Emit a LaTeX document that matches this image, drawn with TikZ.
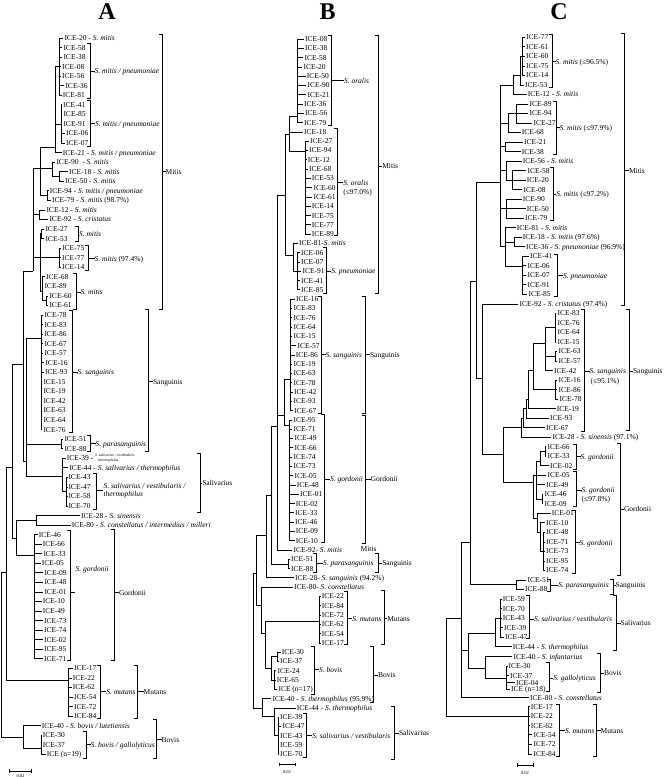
\documentclass[tikz,border=0pt]{standalone}
\usepackage{fontspec}
\setmainfont{Liberation Serif}
\usetikzlibrary{positioning}

\tikzset{
  tr/.style={line width=0.7pt},
  brk/.style={line width=0.9pt},
  lf/.style={anchor=west, inner xsep=1.2pt, inner ysep=0pt, xshift=-1.2pt,
    text height=5pt, text depth=0pt, font=\fontsize{7.5}{8}\selectfont},
  lab/.style={lf, inner xsep=0pt, xshift=0pt},
  lab2/.style={anchor=west, inner sep=0pt, align=left, font=\fontsize{7.5}{7.2}\selectfont},
  tny/.style={inner sep=0pt, align=left, font=\fontsize{3.8}{4.4}\selectfont},
  ttl/.style={font=\fontsize{24}{26}\selectfont\bfseries},
  bar/.style={inner sep=0pt, font=\fontsize{4.5}{5}\selectfont},
}
\newcommand{\strep}[1]{\textit{S. #1}}
% bracket: name, x, top, bottom, tick row, label x, text
\newcommand{\clade}[7]{%
  \draw[brk] (#2-3.5,#3) -- (#2,#3) -- (#2,#4) -- (#2-3.5,#4);
  \node[lab] (#1) at (#6,#5) {#7};
  \draw[brk] (#2,#5) -- (#1);
}

\begin{document}
\begin{tikzpicture}[x=1pt, y=-1pt]
\useasboundingbox (0,0) rectangle (664,778);

\node[ttl] (tA) at (107,12) {A};
\node[ttl] (tB) at (327.5,12) {B};
\node[ttl] (tC) at (559,12) {C};

% panel A
\begin{scope}[yshift=-38pt, y=-9.55pt]
\foreach \i/\x/\t in {
  0/64.3/{ICE-20 - \strep{mitis}},
  1/63.3/ICE-58, 2/63.3/ICE-38, 3/62/ICE-08, 4/62/ICE-56, 5/65.3/ICE-36, 6/62.7/ICE-81,
  7/63/ICE-41, 8/63.3/ICE-85, 9/63.3/ICE-91, 10/66/ICE-06, 11/66/ICE-07,
  12/62.7/{ICE-21 - \strep{mitis / pneumoniae}},
  13/56.3/{ICE-90 \ - \strep{mitis}},
  14/69/{ICE-18 - \strep{mitis}},
  15/65/{ICE-50 - \strep{mitis}},
  16/49.7/{ICE-94 - \strep{mitis / pneumoniae}},
  17/52/{ICE-79 - \strep{mitis} (98.7\%)},
  18/46.3/{ICE-12 - \strep{mitis}},
  19/49.3/{ICE-92 - \strep{cristatus}},
  20/45.3/ICE-27, 21/45.3/ICE-53, 22/62/ICE-75, 23/62/ICE-77, 24/62/ICE-14,
  25/46/ICE-68, 26/44.3/ICE-89, 27/49.3/ICE-60, 28/49.3/ICE-61,
  29/44.3/ICE-78, 30/44.3/ICE-83, 31/44.3/ICE-86, 32/44.3/ICE-67, 33/44.3/ICE-57,
  34/45.3/ICE-16, 35/45/ICE-93, 36/43.3/ICE-15, 37/43.3/ICE-19, 38/43.3/ICE-42,
  39/43.3/ICE-63, 40/43.3/ICE-64, 41/43.3/ICE-76,
  42/64.3/ICE-51, 43/64.3/ICE-88,
  44/66.7/{ICE-39 -}, 45/69.3/{ICE-44 - \strep{salivarius / thermophilus}},
  46/68.3/ICE-43, 47/68.3/ICE-47, 48/68.3/ICE-58, 49/68.3/ICE-70,
  50/81/{ICE-28 - \strep{sinensis}},
  51/71.7/{ICE-80 - \strep{constellatus / intermedius / milleri}},
  52/38.7/ICE-46, 53/42.7/ICE-66, 54/43.3/ICE-33, 55/41.7/ICE-05, 56/44.3/ICE-09,
  57/44.3/ICE-48, 58/44.3/ICE-01, 59/42.7/ICE-10, 60/42.7/ICE-49, 61/44/ICE-73,
  62/44/ICE-74, 63/44/ICE-02, 64/44/ICE-95, 65/44/ICE-71,
  66/74/ICE-17, 67/72.7/ICE-22, 68/72.7/ICE-62, 69/74/ICE-54, 70/74/ICE-72, 71/74/ICE-84,
  72/41.7/{ICE-40 - \strep{bovis / lutetiensis}},
  73/42.7/ICE-30, 74/42.7/ICE-37, 75/46.7/{ICE (n=19)}}
  \node[lf] (a\i) at (\x,\i) {\t};
\node[tny, right=0.2pt of a44] (a44s) {\textit{S. salivarius / vestibularis}\\\hspace*{3pt}\textit{thermophilus}};

\foreach \n/\x/\r in {aN1/59/3, aN2/61/9, aN3/55.5/11.4, aN4/52.7/13.6, aN5/59.3/14.5,
  aN6/40/13.6, aN7/47/16.5, aN8/39.3/18.5, aN9/33.3/24.4, aN10/40/23, aN11/41.3/20.5,
  aN12/59.3/23, aN13/42.3/26.5, aN14/46.7/27.5, aN15/41/31.5, aN16/61.7/42.5,
  aN17/62.7/45.9, aN18/66.5/47.5, aN19/26.5/44.3, aN20/23.3/34.2, aN21/36.7/50.5,
  aN22/34.3/54.2, aN23/16.7/52.4, aN24/12.7/45, aN25/68.3/67.3, aN26/6/56,
  aN27/41/74.4, aN28/23.3/73.2, aN29/1/64.5}
  \coordinate (\n) at (\x,\r);

\foreach \p/\f/\l in {aN1/0/6, aN2/7/11, aN5/14/15, aN7/16/17, aN8/18/19, aN11/20/21,
  aN12/22/24, aN14/27/28, aN15/29/41, aN16/42/43, aN18/46/49, aN21/50/51, aN22/52/65,
  aN25/66/71, aN27/73/75}
  {\foreach \c in {\f,...,\l} {\draw[tr] (\p) |- (a\c);}}
\foreach \p/\cl in {aN3/{aN1,aN2,a12}, aN4/{a13,aN5}, aN6/{aN3,aN4,aN7},
  aN9/{aN6,aN8,aN10}, aN10/{aN11,aN12,aN13}, aN13/{a25,a26,aN14}, aN17/{a44,a45,aN18},
  aN19/{aN15,aN16,aN17}, aN20/{aN9,aN19}, aN23/{aN21,aN22}, aN24/{aN20,aN23},
  aN26/{aN24,aN25}, aN28/{a72,aN27}, aN29/{aN26,aN28}}
  {\foreach \c in \cl {\draw[tr] (\p) |- (\c);}}

\clade{aL1}{90}{0.55}{6.3}{3.46}{95.7}{\strep{mitis / pneumoniae}}
\clade{aL2}{90}{6.5}{11.4}{9}{96}{\strep{mitis / pneumoniae}}
\clade{aL3}{78}{19.7}{21.3}{20.5}{80}{\strep{mitis}}
\clade{aL4}{88.3}{21.7}{24.3}{23.1}{95.7}{\strep{mitis} (97.4\%)}
\clade{aL5}{76}{24.7}{28.4}{26.6}{81.7}{\strep{mitis}}
\clade{aL6}{72.3}{28.5}{41.3}{35}{78.7}{\strep{sanguinis}}
\clade{aL7}{90.7}{41.6}{43.3}{42.5}{96.7}{\strep{parasanguinis}}
\draw[brk] (93.2,45.6) -- (96.7,45.6) -- (96.7,49.4) -- (93.2,49.4);
\node[lab2] (aL8) at (103.3,47.4) {\strep{salivarius / vestibularis /}\\\textit{thermophilus}};
\draw[brk] (96.7,47.4) -- (aL8);
\draw[brk] (67.2,51.6) -- (70.7,51.6) -- (70.7,65.2) -- (67.2,65.2);
\draw[brk] (70.7,58.1) -- (74.5,58.1);
\node[lab] (aL9) at (76.7,55.6) {\strep{gordonii}};
\clade{aL10}{100.7}{65.65}{71.25}{68.45}{107.3}{\strep{mutans}}
\clade{aL11}{86}{72.6}{75.4}{74}{91.7}{\strep{bovis / gallolyticus}}

\clade{aO1}{162.7}{-0.4}{28.4}{14}{166.7}{Mitis}
\clade{aO2}{148.3}{28.4}{43.3}{36}{154}{Sanguinis}
\clade{aO3}{200}{43.45}{49.7}{46.6}{203.3}{Salivarius}
\clade{aO4}{114}{51.5}{65.2}{58.1}{120}{Gordonii}
\clade{aO5}{137.7}{65.65}{71.3}{68.45}{144.7}{Mutans}
\clade{aO6}{156.7}{71.4}{75.4}{73.5}{162.7}{Bovis}
\end{scope}

% panel B
\begin{scope}[yshift=-39pt, y=-9.29pt]
\foreach \i/\x/\t in {
  0/305/ICE-08, 1/305/ICE-38, 2/304.3/ICE-58, 3/303.3/ICE-20, 4/306.7/ICE-50,
  5/307.3/ICE-90, 6/307.3/ICE-21, 7/304/ICE-36, 8/305/ICE-56, 9/304/ICE-79,
  10/304/ICE-18, 11/310/ICE-27, 12/309/ICE-94, 13/307.7/ICE-12, 14/309/ICE-68,
  15/311.7/ICE-53, 16/313.3/ICE-60, 17/313.3/ICE-61, 18/311.7/ICE-14, 19/311.7/ICE-75,
  20/311.7/ICE-77, 21/311.7/ICE-89,
  22/299/{ICE-81-\strep{mitis}},
  23/301/ICE-06, 24/301/ICE-07, 25/302.3/ICE-91, 26/301/ICE-41, 27/301/ICE-85,
  28/296/ICE-16, 29/293.3/ICE-83, 30/293.3/ICE-76, 31/293.3/ICE-64, 32/293.3/ICE-15,
  33/297.3/ICE-57, 34/295.7/ICE-86, 35/293.3/ICE-19, 36/293.3/ICE-63, 37/293.3/ICE-78,
  38/294/ICE-42, 39/293.3/ICE-93, 40/294/ICE-67,
  41/293.3/ICE-95, 42/293.3/ICE-71, 43/294.3/ICE-49, 44/294.3/ICE-66, 45/293.3/ICE-74,
  46/293.3/ICE-73, 47/294.3/ICE-05, 48/296.7/ICE-48, 49/300/ICE-01, 50/295.7/ICE-02,
  51/295/ICE-33, 52/295/ICE-46, 53/295.7/ICE-09, 54/295.7/ICE-10,
  55/293.3/{ICE-92- \strep{mitis}},
  56/291/ICE-51, 57/291/ICE-88,
  58/295/{ICE-28- \strep{sanguinis} (94.2\%)},
  59/294/{ICE-80- \strep{constellatus}},
  60/321.7/ICE-22, 61/321.7/ICE-84, 62/321.7/ICE-72, 63/321.7/ICE-62, 64/321.7/ICE-54,
  65/321.7/ICE-17,
  66/281.7/ICE-30, 67/280/ICE-37, 68/277.3/ICE-24, 69/276.7/ICE-65, 70/278.3/{ICE (n=17)},
  71/272.3/{ICE-40 - \strep{thermophilus} (95.9\%)},
  72/296.7/{ICE-44 - \strep{thermophilus}},
  73/280/ICE-39, 74/282.3/ICE-47, 75/280/ICE-43, 76/280/ICE-59, 77/280/ICE-70}
  \node[lf] (b\i) at (\x,\i) {\t};

\foreach \n/\x/\r in {bN1/297/8.3, bN2/305/12.1, bN3/289.3/10.3, bN4/297.7/25,
  bN5/293.3/23.3, bN6/285/16.8, bN7/290.7/36.6, bN8/289/41.6, bN9/284.3/40.5,
  bN10/277/41.7, bN11/288.3/56.5, bN12/271.7/49.1, bN13/266.7/53.4, bN14/319.5/62.7,
  bN15/277.7/66.5, bN16/274.3/69, bN17/271/67.7, bN18/265.7/64, bN19/261/61,
  bN20/256.7/57.5, bN21/278.3/75, bN22/274.3/72.9, bN23/262.3/72, bN24/253.3/65}
  \coordinate (\n) at (\x,\r);

\foreach \p/\f/\l in {bN1/0/9, bN2/11/21, bN4/23/27, bN7/28/40, bN8/41/54, bN11/56/57,
  bN14/60/65, bN15/66/67, bN16/68/70, bN21/73/77}
  {\foreach \c in {\f,...,\l} {\draw[tr] (\p) |- (b\c);}}
\foreach \p/\cl in {bN3/{bN1,b10,bN2}, bN5/{b22,bN4}, bN6/{bN3,bN5}, bN9/{bN7,bN8},
  bN10/{bN6,bN9,b55}, bN12/{bN10,bN11}, bN13/{bN12,b58}, bN17/{bN15,bN16},
  bN18/{bN14,bN17}, bN19/{b59,bN18}, bN20/{bN13,bN19}, bN22/{b72,bN21},
  bN23/{b71,bN22}, bN24/{bN20,bN23}}
  {\foreach \c in \cl {\draw[tr] (\p) |- (\c);}}

\clade{bL1}{331.7}{-0.35}{9.3}{4.5}{345}{\strep{oralis}}
\clade{bL2}{337.7}{9.6}{21.1}{15.45}{344.3}{\strep{oralis}}
\node[lab] (bL2b) at (344.3,16.5) {(≤97.0\%)};
\clade{bL3}{326}{22.4}{27.4}{25}{332.3}{\strep{pneumoniae}}
\clade{bL4}{321.7}{27.7}{40.3}{34}{326.7}{\strep{sanguinis}}
\clade{bL5}{324.3}{40.4}{54.2}{47.4}{331}{\strep{gordonii}}
\clade{bL6}{316.7}{55.4}{57.4}{56.4}{324}{\strep{parasanguinis}}
\clade{bL7}{347.7}{59.5}{65.2}{62.4}{353.3}{\strep{mutans}}
\clade{bL8}{314.3}{65.4}{70.5}{67.9}{320}{\strep{bovis}}
\clade{bL9}{306.7}{72.6}{77.3}{75}{313.3}{\strep{salivarius / vestibularis}}

\clade{bO1}{378.3}{-0.35}{27.4}{13.7}{383.3}{Mitis}
\clade{bO2}{365}{27.7}{40.3}{34}{371}{Sanguinis}
\clade{bO3}{365}{40.5}{54.3}{47.4}{371.7}{Gordonii}
\node[lab] (bO4) at (361.7,54.9) {Mitis};
\clade{bO5}{378.3}{55.4}{57.4}{56.4}{383.3}{Sanguinis}
\clade{bO6}{384.3}{59.4}{65.2}{62.4}{388.3}{Mutans}
\clade{bO7}{373.3}{65.4}{71.4}{68.5}{379}{Bovis}
\clade{bO8}{394.3}{71.8}{77.6}{74.7}{400}{Salivarius}
\end{scope}

% panel C
\begin{scope}[yshift=-37.3pt, y=-9.52pt]
\foreach \i/\r/\x/\t in {
  0/0/526/ICE-77, 1/1/526/ICE-61, 2/2/526/ICE-60, 3/3/526/ICE-75, 4/4/526/ICE-14,
  5/5/525/ICE-53,
  6/6/527.7/{ICE-12 - \strep{mitis}},
  7/7/529.3/ICE-89, 8/8/529.3/ICE-94, 9/9/533.3/ICE-27, 10/10/521.7/ICE-68,
  11/11/524/ICE-21, 12/12/521.7/ICE-38,
  13/13/522.7/{ICE-56 - \strep{mitis}},
  14/14/527.3/ICE-58, 15/15/526.7/ICE-20, 16/16/523.3/ICE-08, 17/17/522.7/ICE-90,
  18/18/526.7/ICE-50, 19/19/525/ICE-79,
  20/20/516.7/{ICE-81 - \strep{mitis}},
  21/21/522.7/{ICE-18 - \strep{mitis} (97.6\%)},
  22/22/526/{ICE-36 - \strep{pneumoniae} (96.9\%)},
  23/23/530/ICE-41, 24/24/527.3/ICE-06, 25/25/527.3/ICE-07, 26/26/527.3/ICE-91,
  27/27/528.3/ICE-85,
  28/28/519.3/{ICE-92 - \strep{cristatus} (97.4\%)},
  29/29/557.3/ICE-83, 30/30/557.3/ICE-76, 31/31/557.3/ICE-64, 32/32/557.3/ICE-15,
  33/33/558.3/ICE-63, 34/34/558.3/ICE-57, 35/35/554/ICE-42, 36/36/558.3/ICE-16,
  37/37/558.3/ICE-86, 38/38/559.3/ICE-78, 39/39/556.7/ICE-19, 40/40/550/ICE-93,
  41/41/546/ICE-67,
  42/42/552.3/{ICE-28 - \strep{sinensis} (97.1\%)},
  43/43/547.3/ICE-66, 44/44/547.3/ICE-33, 45/45/550/ICE-02, 46/46/547.3/ICE-05,
  47/47/546/ICE-49, 48/48/544.3/ICE-46, 49/49/544.3/ICE-09, 50/50/551.7/ICE-01,
  51/51/546/ICE-10, 52/52/546/ICE-48, 53/53/546/ICE-71, 54/54/546/ICE-73,
  55/55/546/ICE-95, 56/56/546/ICE-74,
  57/57/527.3/ICE-51, 58/58/525/ICE-88,
  59/59/502.7/ICE-59, 60/60/502.7/ICE-70, 61/61/502.7/ICE-43, 62/62/504/ICE-39,
  63/63/505/ICE-47,
  64/64/512.7/{ICE-44 - \strep{thermophilus}},
  65/65.06/513.3/{ICE-40 - \strep{infantarius}},
  66/66.04/508.3/ICE-30, 67/67.06/510/ICE-37, 68/67.79/516/ICE-04,
  69/68.49/511/{ICE (n=18)},
  70/69.37/530/{ICE-80 - \strep{constellatus}},
  71/70.32/530.7/ICE-17, 72/71.29/530.7/ICE-22, 73/72.31/530.7/ICE-62,
  74/73.24/533.3/ICE-54, 75/74.26/533.3/ICE-72, 76/75.28/533.3/ICE-84}
  \node[lf] (c\i) at (\x,\r) {\t};

\foreach \n/\x/\r in {cN1/522.7/2, cN2/520/4, cN3/513.3/5, cN4/516/8, cN5/508.3/9,
  cN6/505.7/11.5, cN7/512.7/15, cN8/506.7/14, cN9/506.7/18, cN10/514/21.5,
  cN11/522.7/24.1, cN12/505.7/22, cN13/500/15.2, cN14/555/30.5, cN15/555.7/33.5,
  cN16/545/32.1, cN17/555.7/37, cN18/533.3/35, cN19/528.3/38, cN20/526/39,
  cN21/523.7/40, cN22/521.7/41, cN23/545/43.5, cN24/540.7/44.5, cN25/542/48.5,
  cN26/536.7/46, cN27/543/54, cN28/540/52, cN29/537.3/50.5, cN30/533.3/46.7,
  cN31/503.3/43.8, cN32/482.7/35.8, cN33/476.7/25.6, cN34/516.7/57.5, cN35/470/53,
  cN36/500/61, cN37/495/62.6, cN38/506.7/67.3, cN39/485/66.3, cN40/468.3/64.4,
  cN41/461.7/61, cN42/528.3/71.29, cN43/446.7/66}
  \coordinate (\n) at (\x,\r);

\foreach \p/\f/\l in {cN1/0/4, cN4/7/9, cN6/11/12, cN7/14/16, cN9/17/19, cN10/21/22,
  cN11/23/27, cN14/29/32, cN15/33/34, cN17/36/38, cN23/43/44, cN25/48/49, cN27/52/56,
  cN34/57/58, cN36/59/63, cN38/66/69, cN42/71/76}
  {\foreach \c in {\f,...,\l} {\draw[tr] (\p) |- (c\c);}}
\foreach \p/\cl in {cN2/{cN1,c5}, cN3/{cN2,c6}, cN5/{cN4,c10}, cN8/{c13,cN7},
  cN12/{c20,cN10,cN11}, cN13/{cN3,cN5,cN6,cN8,cN9,cN12}, cN16/{cN14,cN15,c35},
  cN18/{cN16,cN17}, cN19/{cN18,c39}, cN20/{cN19,c40}, cN21/{cN20,c41},
  cN22/{cN21,c42}, cN24/{cN23,c45}, cN26/{cN24,c46,c47,cN25}, cN28/{c51,cN27},
  cN29/{c50,cN28}, cN30/{cN26,cN29}, cN31/{cN22,cN30}, cN32/{c28,cN31},
  cN33/{cN13,cN32}, cN35/{cN33,cN34}, cN37/{cN36,c64}, cN39/{c65,cN38},
  cN40/{cN37,cN39}, cN41/{cN35,cN40,c70}, cN43/{cN41,cN42}}
  {\foreach \c in \cl {\draw[tr] (\p) |- (\c);}}

\clade{cL1}{552.3}{-0.35}{5.25}{2.56}{556.7}{\strep{mitis} (≤96.5\%)}
\clade{cL2}{556}{6.69}{12.29}{9.5}{560.7}{\strep{mitis} (≤97.9\%)}
\clade{cL3}{553.3}{13.7}{19.2}{16.49}{557.3}{\strep{mitis} (≤97.2\%)}
\clade{cL4}{557.3}{22.76}{27.25}{25.04}{564}{\strep{pneumoniae}}
\clade{cL5}{584}{28.57}{41.35}{35.08}{590.7}{\strep{sanguinis}}
\node[lab] (cL5b) at (591.7,36.07) {(≤95.1\%)};
\clade{cL6}{576}{42.8}{45.35}{44.05}{581.7}{\strep{gordonii}}
\clade{cL7}{576.7}{45.63}{49.3}{47.55}{582.7}{\strep{gordonii}}
\node[lab] (cL7b) at (582.7,48.53) {(≤97.8\%)};
\clade{cL8}{575}{49.65}{56.37}{53.09}{580.7}{\strep{gordonii}}
\clade{cL9}{550}{56.9}{58.24}{57.53}{559.3}{\strep{parasanguinis}}
\clade{cL10}{529.3}{58.68}{63.12}{61.1}{535}{\strep{salivarius / vestibularis}}
\clade{cL11}{549}{65.69}{68.73}{67.33}{554.3}{\strep{gallolyticus}}
\clade{cL12}{559.3}{70.03}{75.5}{72.84}{566}{\strep{mutans}}

\clade{cO1}{624}{-0.42}{28.2}{14}{630}{Mitis}
\clade{cO2}{629.3}{28.54}{41.32}{35.08}{634}{Sanguinis}
\clade{cO3}{620}{42.65}{56.48}{49.58}{625}{Gordonii}
\clade{cO4}{613.3}{56.9}{58.5}{57.53}{616.7}{Sanguinis}
\clade{cO5}{616.7}{58.68}{64.36}{61.55}{621.7}{Salivarius}
\clade{cO6}{600}{64.7}{68.84}{66.81}{605}{Bovis}
\clade{cO7}{596}{70.03}{75.5}{72.84}{601.7}{Mutans}
\end{scope}

% scale bars
\draw[tr] (9.3,771) -- (31.7,771);
\draw[tr] (9.3,769.3) -- (9.3,772.7) (31.7,769.3) -- (31.7,772.7);
\node[bar] (sA) at (20.5,776.5) {0.02};
\draw[tr] (279,764.7) -- (295,764.7);
\draw[tr] (279,763) -- (279,766.4) (295,763) -- (295,766.4);
\node[bar] (sB) at (287,772) {0.02};
\draw[tr] (517,765) -- (533,765);
\draw[tr] (517,763.3) -- (517,766.7) (533,763.3) -- (533,766.7);
\node[bar] (sC) at (525,773) {0.02};
\end{tikzpicture}
\end{document}
